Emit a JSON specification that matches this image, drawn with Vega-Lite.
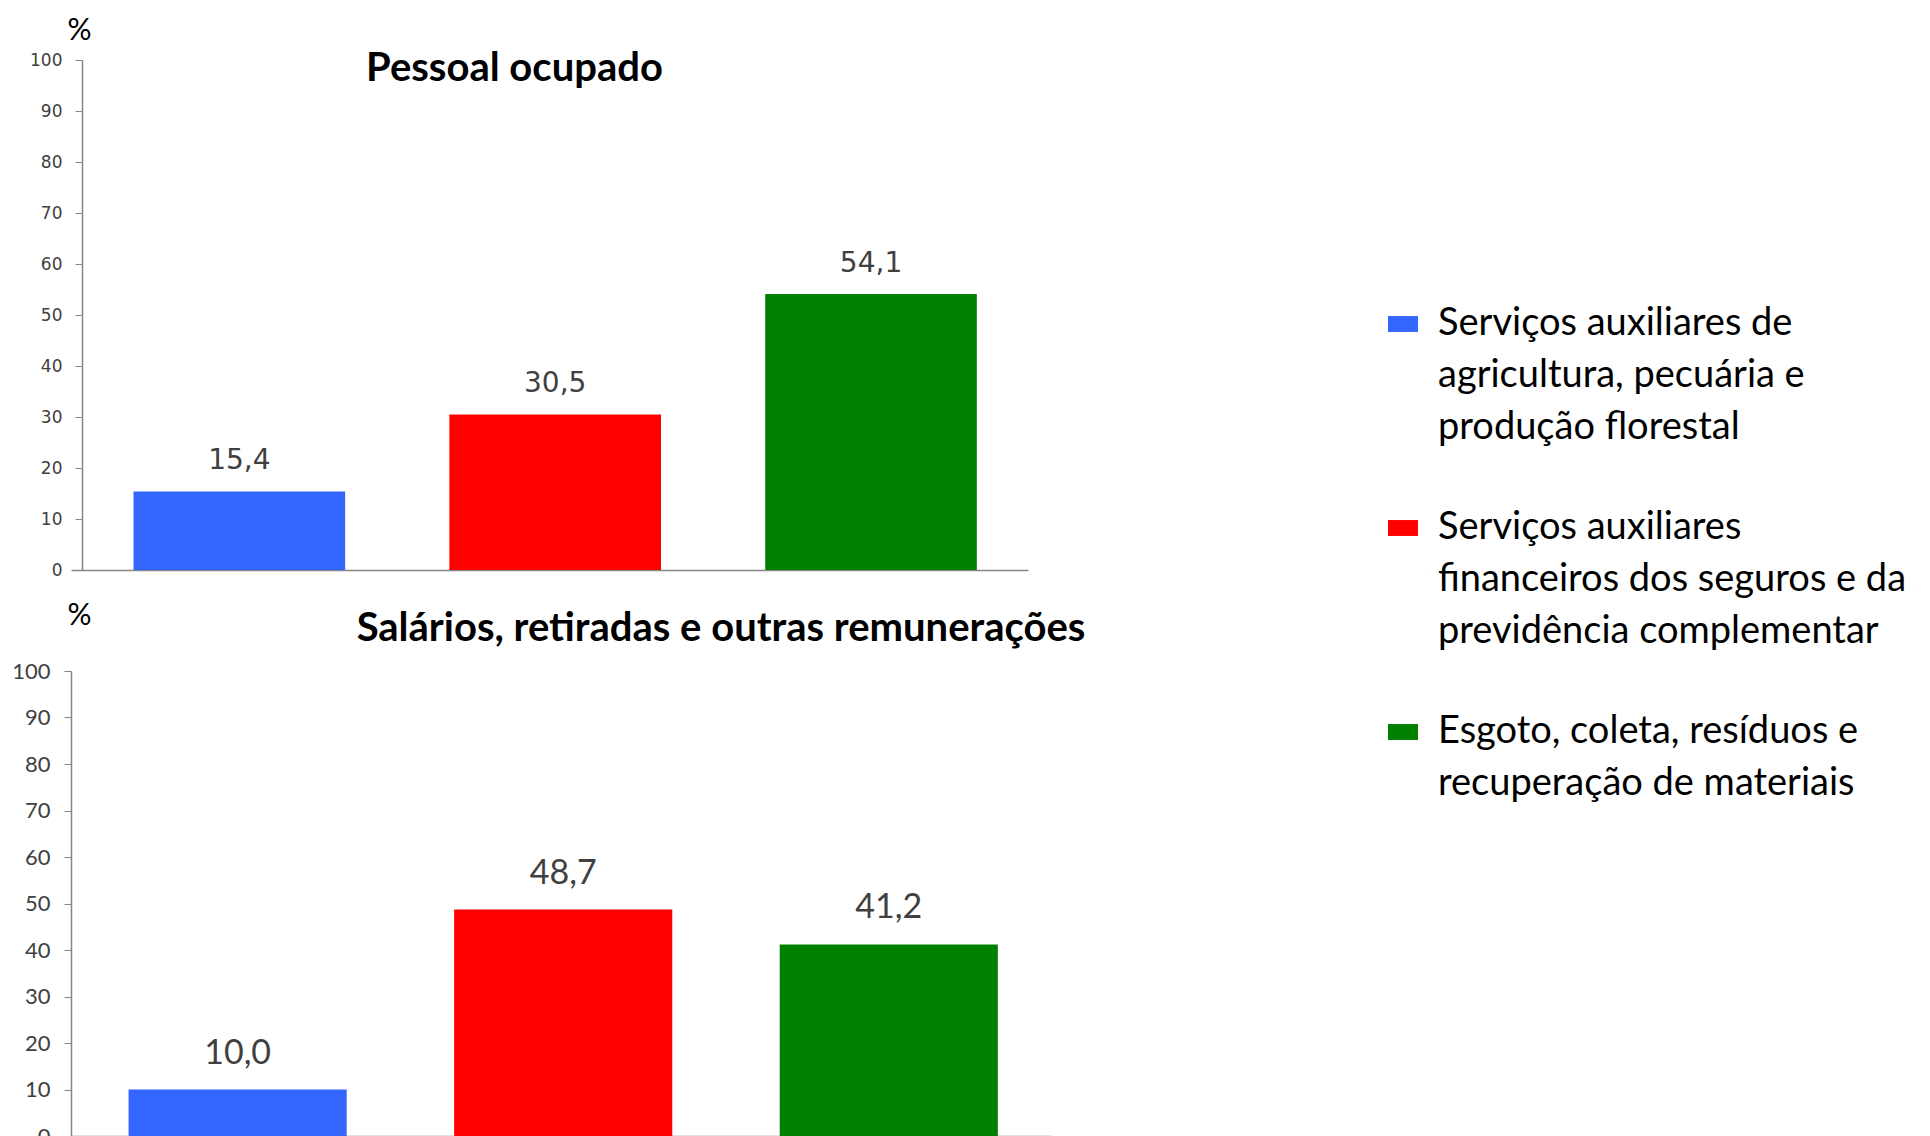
{
  "$schema": "https://vega.github.io/schema/vega-lite/v6.json",
  "padding": {"left": 11, "top": 15, "right": 0, "bottom": 0},
  "background": "white",
  "spacing": 22,
  "datasets": {
    "pessoal": [
      {"setor": "Serviços auxiliares de agricultura, pecuária e produção florestal", "valor": 15.4},
      {"setor": "Serviços auxiliares financeiros dos seguros e da previdência complementar", "valor": 30.5},
      {"setor": "Esgoto, coleta, resíduos e recuperação de materiais", "valor": 54.1}
    ],
    "salarios": [
      {"setor": "Serviços auxiliares de agricultura, pecuária e produção florestal", "valor": 10.0},
      {"setor": "Serviços auxiliares financeiros dos seguros e da previdência complementar", "valor": 48.7},
      {"setor": "Esgoto, coleta, resíduos e recuperação de materiais", "valor": 41.2}
    ]
  },
  "resolve": {"scale": {"color": "shared"}, "legend": {"color": "shared"}},
  "vconcat": [
    {
      "data": {"name": "pessoal"},
      "width": 957,
      "height": 510,
      "title": {"text": "Pessoal ocupado", "font": "Lato", "fontSize": 40, "fontWeight": "bold", "color": "black", "anchor": "middle", "offset": 0, "dx": -35, "dy": 74},
      "encoding": {
        "x": {"field": "setor", "type": "nominal", "sort": null, "scale": {"paddingInner": 0.33, "paddingOuter": 0.18, "align": 0.55}, "axis": {"title": null, "labels": false, "ticks": false, "domainColor": "#868686", "domainWidth": 1.5}},
        "y": {"field": "valor", "type": "quantitative", "scale": {"domain": [0, 100], "nice": false}, "axis": {"offset": -11, "title": "%", "titleAngle": 0, "titleAlign": "center", "titleBaseline": "bottom", "titleX": -3, "titleY": -15, "titleFont": "Lato", "titleFontSize": 30, "titleFontWeight": "normal", "titleColor": "black", "values": [0, 10, 20, 30, 40, 50, 60, 70, 80, 90, 100], "labelFont": "DejaVu Sans", "labelFontSize": 17, "labelColor": "#404040", "labelPadding": 13, "tickSize": 7, "tickColor": "#868686", "domainColor": "#868686", "domainWidth": 1.5, "grid": false}}
      },
      "layer": [
        {"mark": {"type": "bar"}, "encoding": {"color": {"field": "setor", "type": "nominal", "sort": null, "scale": {"range": ["#3366FF", "#FF0000", "#008000"]},
          "legend": {"orient": "none", "legendX": 1313, "legendY": 245, "title": null, "padding": 0, "symbolType": "M-1,-0.53H1V0.53H-1Z", "symbolSize": 900, "symbolStrokeWidth": 0, "symbolOpacity": 1, "labelFont": "Lato", "labelFontSize": 38, "labelColor": "black", "labelOffset": 16, "labelLimit": 800, "rowPadding": 62,
            "labelExpr": "datum.value == 'Serviços auxiliares de agricultura, pecuária e produção florestal' ? ['Serviços auxiliares de', 'agricultura, pecuária e', 'produção florestal'] : datum.value == 'Serviços auxiliares financeiros dos seguros e da previdência complementar' ? ['Serviços auxiliares', 'financeiros dos seguros e da', 'previdência complementar'] : ['Esgoto, coleta, resíduos e', 'recuperação de materiais']",
            "encode": {"labels": {"update": {"lineHeight": {"value": 52}}}}}}}},
        {"mark": {"type": "text", "baseline": "middle", "dy": -30, "font": "DejaVu Sans", "fontSize": 28, "color": "#404040"}, "encoding": {"text": {"field": "valor", "type": "quantitative", "format": ".1f"}}}
      ]
    },
    {
      "data": {"name": "salarios"},
      "width": 980,
      "height": 465,
      "title": {"text": "Salários, retiradas e outras remunerações", "font": "Lato", "fontSize": 40, "fontWeight": "bold", "color": "black", "anchor": "middle", "offset": 0, "dx": 160, "dy": 49},
      "encoding": {
        "x": {"field": "setor", "type": "nominal", "sort": null, "scale": {"paddingInner": 0.33, "paddingOuter": 0.17, "align": 0.52}, "axis": {"title": null, "labels": false, "ticks": false, "domainColor": "#868686", "domainWidth": 1.5}},
        "y": {"field": "valor", "type": "quantitative", "scale": {"domain": [0, 100], "nice": false}, "axis": {"title": "%", "titleAngle": 0, "titleAlign": "center", "titleBaseline": "bottom", "titleX": 8, "titleY": -41, "titleFont": "Lato", "titleFontSize": 30, "titleFontWeight": "normal", "titleColor": "black", "values": [0, 10, 20, 30, 40, 50, 60, 70, 80, 90, 100], "labelFont": "Lato", "labelFontSize": 22, "labelColor": "#404040", "labelPadding": 14, "tickSize": 7, "tickColor": "#868686", "domainColor": "#868686", "domainWidth": 1.5, "grid": false}}
      },
      "layer": [
        {"mark": {"type": "bar"}, "encoding": {"color": {"field": "setor", "type": "nominal", "sort": null, "scale": {"range": ["#3366FF", "#FF0000", "#008000"]},
          "legend": {"orient": "none", "legendX": 1313, "legendY": 245, "title": null, "padding": 0, "symbolType": "M-1,-0.53H1V0.53H-1Z", "symbolSize": 900, "symbolStrokeWidth": 0, "symbolOpacity": 1, "labelFont": "Lato", "labelFontSize": 38, "labelColor": "black", "labelOffset": 16, "labelLimit": 800, "rowPadding": 62,
            "labelExpr": "datum.value == 'Serviços auxiliares de agricultura, pecuária e produção florestal' ? ['Serviços auxiliares de', 'agricultura, pecuária e', 'produção florestal'] : datum.value == 'Serviços auxiliares financeiros dos seguros e da previdência complementar' ? ['Serviços auxiliares', 'financeiros dos seguros e da', 'previdência complementar'] : ['Esgoto, coleta, resíduos e', 'recuperação de materiais']",
            "encode": {"labels": {"update": {"lineHeight": {"value": 52}}}}}}}},
        {"mark": {"type": "text", "baseline": "middle", "dy": -36, "font": "Lato", "fontSize": 34, "color": "#404040"}, "encoding": {"text": {"field": "valor", "type": "quantitative", "format": ".1f"}}}
      ]
    }
  ],
  "config": {
    "view": {"stroke": null},
    "locale": {"number": {"decimal": ",", "thousands": ".", "grouping": [3], "currency": ["R$", ""]}}
  }
}
